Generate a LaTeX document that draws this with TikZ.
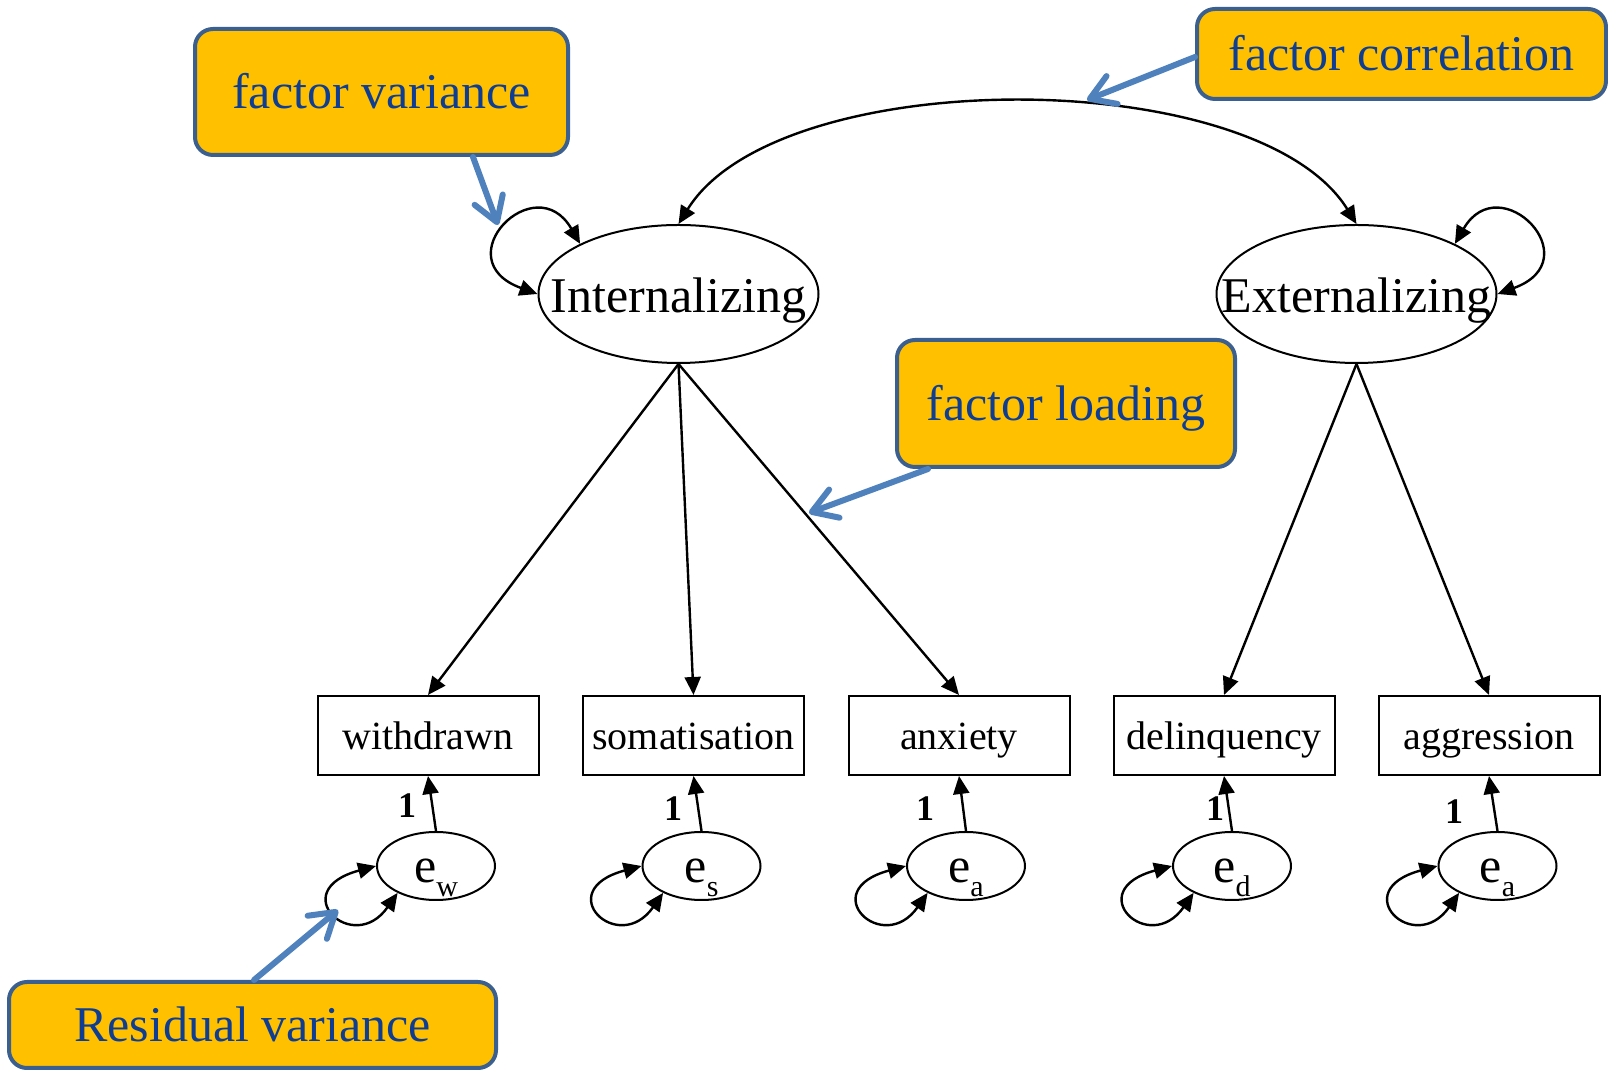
\documentclass[tikz,border=0pt]{standalone}
\usepackage{fontspec}
\setmainfont{Liberation Serif}
\usetikzlibrary{shapes.geometric,arrows.meta,calc}

\definecolor{calloutfill}{HTML}{FFC000}
\definecolor{calloutedge}{HTML}{3B5F8E}
\definecolor{callouttext}{HTML}{0E3D92}
\definecolor{pointerblue}{HTML}{4F81BD}

% lowered subscript for the residual names
\newcommand\errsub[1]{\raisebox{-7pt}{\fontsize{15}{15}\selectfont #1}}

\begin{document}
\begin{tikzpicture}[x=0.5pt,y=0.5pt,
  link/.style={line width=1.2pt,-{Triangle[length=9pt,width=8pt]}},
  twoway/.style={line width=1.2pt,{Triangle[length=9pt,width=8pt]}-{Triangle[length=9pt,width=8pt]}},
  factor/.style={ellipse,draw,line width=1pt,minimum width=140pt,minimum height=69pt,inner sep=0pt},
  factorname/.style={font=\fontsize{25}{30}\selectfont,text height=18.5pt,text depth=0pt,inner sep=0pt},
  indicator/.style={rectangle,draw,line width=1pt,minimum width=110.5pt,minimum height=39.5pt,
    inner sep=0pt,font=\fontsize{20}{24}\selectfont,text height=14pt,text depth=0pt},
  resid/.style={ellipse,draw,line width=1pt,minimum width=59pt,minimum height=34pt,inner sep=0pt,
    font=\fontsize{25}{25}\selectfont,text height=17pt,text depth=0pt},
  fixed/.style={font=\bfseries\fontsize{18}{18}\selectfont,inner sep=0pt},
  callout/.style={rectangle,rounded corners=9pt,draw=calloutedge,line width=2pt,fill=calloutfill,
    text=callouttext,font=\fontsize{25}{30}\selectfont,text height=17pt,text depth=0pt,inner sep=0pt},
  callarrow/.style={draw=pointerblue,line width=3pt,line cap=round,
    -{Straight Barb[round,length=12pt,width=15pt]}}
]
\useasboundingbox (0,0) rectangle (1608,1071);

% latent factors
\node[factor,label={[factorname]center:Internalizing}] (int) at (678.5,777) {};
\node[factor,label={[factorname]center:Externalizing}] (ext) at (1356.5,777) {};

% observed indicators
\node[indicator] (wd) at (428,335.5) {withdrawn};
\node[indicator] (so) at (693.5,335.5) {somatisation};
\node[indicator] (an) at (959,335.5) {anxiety};
\node[indicator] (de) at (1224,335.5) {delinquency};
\node[indicator] (ag) at (1489,335.5) {aggression};

% residuals
\node[resid] (ew) at (436,205) {e\errsub{w}};
\node[resid] (es) at (701.5,205) {e\errsub{s}};
\node[resid] (ea) at (966,205) {e\errsub{a}};
\node[resid] (ed) at (1232,205) {e\errsub{d}};
\node[resid] (eg) at (1497.5,205) {e\errsub{a}};

% loadings
\draw[link] (int.south) -- (wd.north);
\draw[link] (int.south) -- (so.north);
\draw[link] (int.south) -- (an.north);
\draw[link] (ext.south) -- (de.north);
\draw[link] (ext.south) -- (ag.north);

% residual paths fixed to one
\draw[link] (ew.north) -- (wd.south);
\draw[link] (es.north) -- (so.south);
\draw[link] (ea.north) -- (an.south);
\draw[link] (ed.north) -- (de.south);
\draw[link] (eg.north) -- (ag.south);
\node[fixed] (one1) at (407,265) {1};
\node[fixed] (one2) at (673,262) {1};
\node[fixed] (one3) at (925,262) {1};
\node[fixed] (one4) at (1215,262) {1};
\node[fixed] (one5) at (1454,259) {1};

% factor correlation
\draw[twoway] (int.north) .. controls +(100,161) and +(-100,161) .. (ext.north);

% factor variances
\draw[twoway] (int.153) .. controls +(120:90) and +(160:100) .. (int.180);
\draw[twoway] (ext.27) .. controls +(60:90) and +(20:100) .. (ext.0);

% residual variances
\foreach \e in {ew,es,ea,ed,eg}
  \draw[twoway] (\e.180) .. controls +(195:95) and +(235:78) .. (\e.215);

% annotation boxes
\node[callout,minimum width=186.5pt,minimum height=63pt] (fv) at (381.5,979) {factor variance};
\node[callout,minimum width=204.5pt,minimum height=45pt] (fc) at (1401.5,1017) {factor correlation};
\node[callout,minimum width=169pt,minimum height=63.5pt] (fl) at (1066,667.5) {factor loading};
\node[callout,minimum width=243.5pt,minimum height=43pt] (rv) at (252.5,46) {Residual variance};

\coordinate (fvtip) at (498,846);
\coordinate (fctip) at (1087,971);
\coordinate (fltip) at (809,558);
\coordinate (rvtip) at (338,161);

\draw[callarrow] ($(fv.south)+(91.5,0)$) -- (fvtip);
\draw[callarrow] ($(fc.west)+(0,-3)$) -- (fctip);
\draw[callarrow] ($(fl.south)+(-138,0)$) -- (fltip);
\draw[callarrow] ($(rv.north)+(1.5,0)$) -- (rvtip);
\end{tikzpicture}
\end{document}
